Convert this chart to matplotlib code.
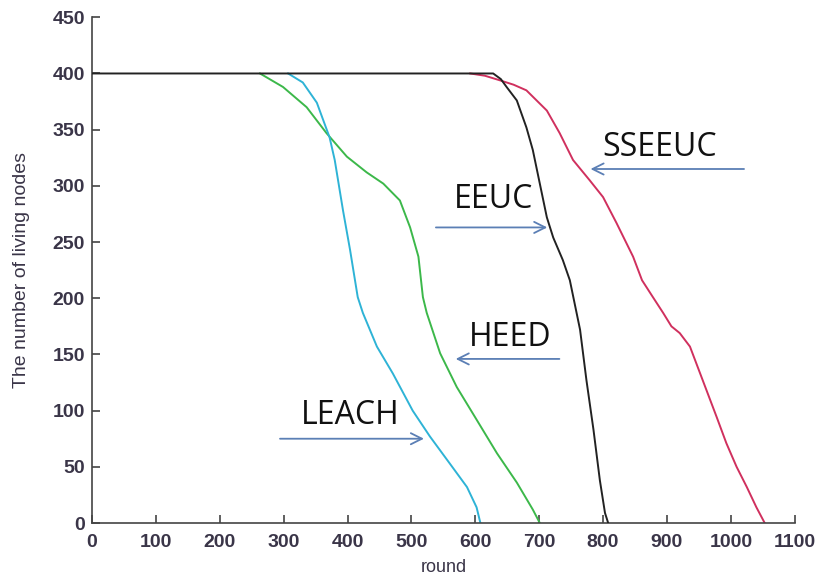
import numpy as np
import matplotlib
matplotlib.use("Agg")
import matplotlib.pyplot as plt

# lifetime curves (round, living nodes)
# all four sit at 400 from round 0; the flat part is drawn by the EEUC curve
leach_x = [307, 330, 352, 372, 380, 393, 404, 416, 424, 446, 471, 502, 529, 560, 587, 602, 608]
leach_y = [400, 392, 374, 343, 323, 278, 243, 201, 187, 157, 133, 100, 77, 53, 32, 14, 0]

heed_x = [263, 299, 336, 367, 399, 430, 456, 482, 498, 511, 518, 524, 545, 571, 602, 634, 665, 690, 701]
heed_y = [400, 388, 370, 347, 326, 312, 302, 287, 263, 237, 201, 187, 151, 121, 92, 62, 36, 12, 0]

eeuc_x = [0, 628, 640, 649, 665, 680, 690, 701, 712, 722, 737, 748, 764, 774, 785, 795, 803, 808]
eeuc_y = [400, 400, 395, 388, 376, 352, 332, 302, 272, 254, 234, 216, 172, 127, 83, 38, 9, 0]

sseeuc_x = [592, 615, 638, 660, 680, 712, 732, 753, 779, 800, 821, 847, 861, 878, 894, 907,
            920, 936, 948, 962, 978, 993, 1009, 1025, 1040, 1053]
sseeuc_y = [400, 398, 394, 390, 385, 367, 347, 323, 305, 290, 267, 237, 216, 201, 187, 175,
            169, 157, 139, 118, 94, 71, 50, 32, 14, 0]

# annotation labels: text position and arrow (tail -> head)
labels = ["SSEEUC", "EEUC", "HEED", "LEACH"]
label_xy = [(889, 334), (628, 288), (654, 165), (404, 96)]
arrow_tail = [(1025, 315), (534, 263), (736, 146), (290, 75)]
arrow_head = [(776, 315), (717, 263), (565, 146), (524, 75)]

fig = plt.figure(figsize=(8.21, 5.76), dpi=100)
ax = fig.add_axes([0.112, 0.092, 0.856, 0.878])

ax.plot(sseeuc_x, sseeuc_y, color="#d0305e", lw=1.4, zorder=2)
ax.plot(heed_x, heed_y, color="#3cb84a", lw=1.4, zorder=2)
ax.plot(leach_x, leach_y, color="#2eb3d6", lw=1.4, zorder=2)
ax.plot(eeuc_x, eeuc_y, color="#222222", lw=1.4, zorder=3)

for name, pos, tail, head in zip(labels, label_xy, arrow_tail, arrow_head):
    ax.text(pos[0], pos[1], name, ha="center", va="center", fontsize=23,
            family=["Open Sans", "DejaVu Sans"], color="#111111")
    ax.annotate("", xy=head, xytext=tail,
                arrowprops=dict(arrowstyle="->", color="#5b7fb5", lw=1.3,
                                mutation_scale=20))

ax.set_xlim(0, 1100)
ax.set_ylim(0, 450)
ax.set_xticks(np.arange(0, 1101, 100))
ax.set_yticks(np.arange(0, 451, 50))
ax.spines["top"].set_visible(False)
ax.spines["right"].set_visible(False)
for s in ["left", "bottom"]:
    ax.spines[s].set_color("#444444")
    ax.spines[s].set_linewidth(1.2)
ax.tick_params(direction="in", length=6, width=1.2, color="#444444",
               labelcolor="#3a3548", labelsize=14, pad=5)
ax.tick_params(axis="x", pad=8)
for lab in ax.get_xticklabels() + ax.get_yticklabels():
    lab.set_family(["Liberation Sans", "DejaVu Sans"])
    lab.set_fontweight("bold")

ax.set_xlabel("round", fontsize=13, color="#3a3548", labelpad=6,
              family=["Liberation Sans", "DejaVu Sans"])
ax.set_ylabel("The number of living nodes", fontsize=14, color="#3a3548",
              labelpad=16, family=["Liberation Sans", "DejaVu Sans"])

fig.savefig("out.png", dpi=100)
